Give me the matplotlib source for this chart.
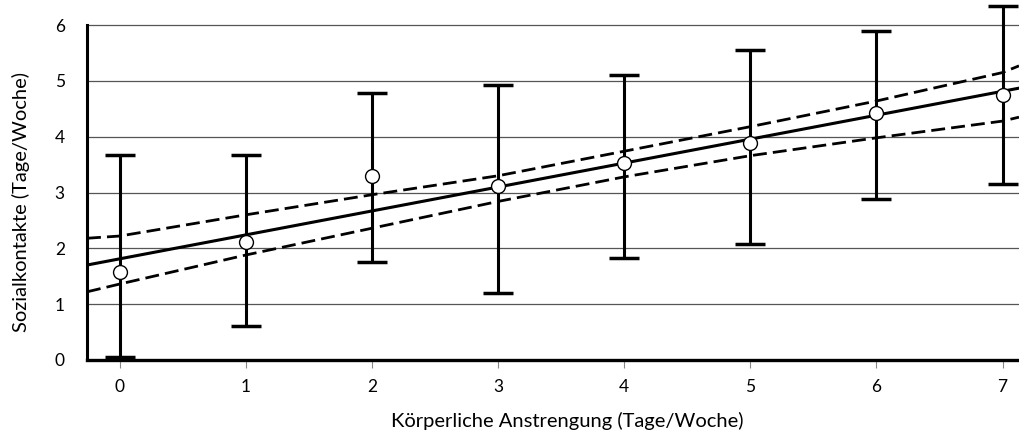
import matplotlib
matplotlib.use("Agg")
import matplotlib.pyplot as plt

# Mittelwerte und Fehlerbalken (Sozialkontakte je Tage körperlicher Anstrengung)
days = [0, 1, 2, 3, 4, 5, 6, 7]
means = [1.58, 2.11, 3.30, 3.12, 3.53, 3.88, 4.42, 4.75]
err_top = [3.67, 3.67, 4.78, 4.92, 5.10, 5.55, 5.90, 6.35]
err_bottom = [0.05, 0.61, 1.75, 1.20, 1.82, 2.08, 2.88, 3.15]

line_x = [-0.26, 7.13]
line_y = [1.70, 4.87]
band_x = [-0.26, 0, 1, 2, 3, 4, 5, 6, 7, 7.13]
band_upper = [2.18, 2.22, 2.60, 2.96, 3.30, 3.74, 4.18, 4.64, 5.15, 5.27]
band_lower = [1.22, 1.36, 1.88, 2.36, 2.84, 3.28, 3.66, 3.98, 4.28, 4.35]

y_ticks = [0, 1, 2, 3, 4, 5, 6]

plt.rcParams["font.family"] = ["Lato", "DejaVu Sans"]

fig = plt.figure(figsize=(10.19, 4.32), dpi=100)
ax = fig.add_axes([0.0854, 0.154, 0.9146, 0.846])

for yv in y_ticks[1:]:
    ax.axhline(yv, color="#555555", linewidth=0.9, zorder=1)

ax.plot(line_x, line_y, color="black", linewidth=2.2, zorder=3)
ax.plot(band_x, band_upper, color="black", linewidth=2.0, linestyle=(0, (5, 2.2)), zorder=3)
ax.plot(band_x, band_lower, color="black", linewidth=2.0, linestyle=(0, (5, 2.2)), zorder=3)

lower_err = [m - b for m, b in zip(means, err_bottom)]
upper_err = [t - m for m, t in zip(means, err_top)]
ax.errorbar(days, means, yerr=[lower_err, upper_err], fmt="none",
            ecolor="black", elinewidth=2.2, capsize=11, capthick=2.5, zorder=4)
ax.plot(days, means, "o", markersize=10, markerfacecolor="white",
        markeredgecolor="black", markeredgewidth=1.0, zorder=5)

ax.set_xlim(-0.26, 7.13)
ax.set_ylim(-0.1, 6.45)
ax.set_xticks(days)
ax.set_yticks(y_ticks)

ax.spines["top"].set_visible(False)
ax.spines["right"].set_visible(False)
ax.spines["left"].set_bounds(0, 6)
ax.spines["left"].set_linewidth(2.2)
ax.spines["bottom"].set_position(("data", 0))
ax.spines["bottom"].set_linewidth(2.4)

ax.tick_params(axis="y", length=0, pad=16, labelsize=12.5)
ax.tick_params(axis="x", length=6, width=0.8, color="#888888", pad=8, labelsize=12.5)

ax.set_xlabel("Körperliche Anstrengung (Tage/Woche)", fontsize=14.5)
ax.set_ylabel("Sozialkontakte (Tage/Woche)", fontsize=14.5)
ax.xaxis.set_label_coords(0.515, -0.128)
ax.yaxis.set_label_coords(-0.061, 0.447)

fig.savefig("out.png", dpi=100)
